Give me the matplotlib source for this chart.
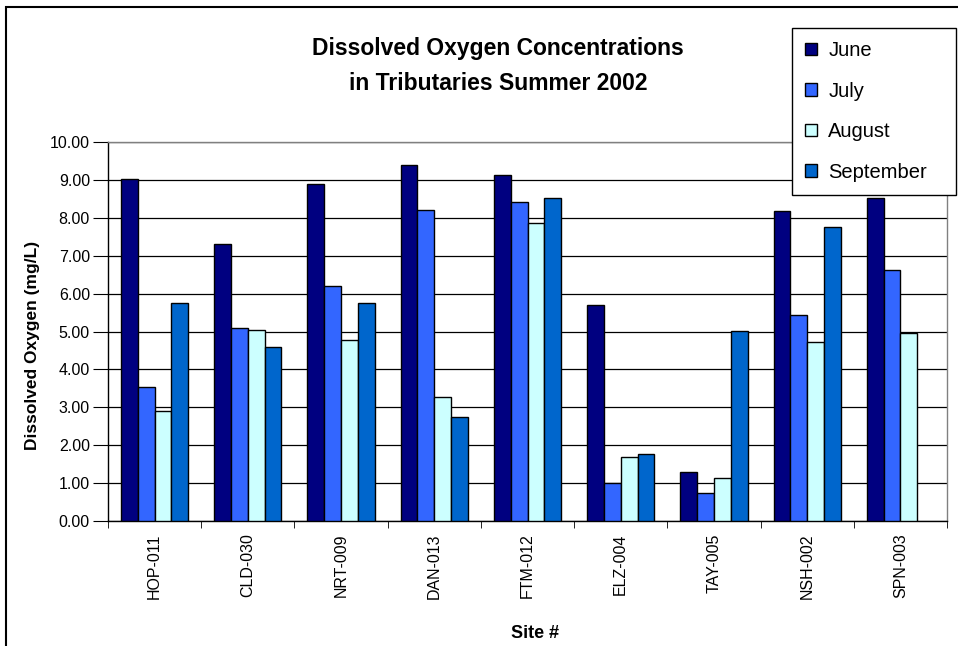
import matplotlib.pyplot as plt
import matplotlib.patches as patches
import numpy as np

plt.rcParams['font.family'] = ['Liberation Sans', 'DejaVu Sans']

# Data
sites = ['HOP-011', 'CLD-030', 'NRT-009', 'DAN-013', 'FTM-012',
         'ELZ-004', 'TAY-005', 'NSH-002', 'SPN-003']
june = [9.02, 7.30, 8.90, 9.38, 9.12, 5.70, 1.29, 8.19, 8.51]
july = [3.54, 5.08, 6.21, 8.20, 8.42, 1.01, 0.73, 5.44, 6.62]
august = [2.90, 5.04, 4.77, 3.28, 7.87, 1.68, 1.14, 4.72, 4.95]
september = [5.75, 4.60, 5.75, 2.75, 8.51, 1.78, 5.01, 7.77, np.nan]

months = ['June', 'July', 'August', 'September']
colors = ['#000080', '#3366FF', '#CCFFFF', '#0066CC']

W, H = 958, 646
fig = plt.figure(figsize=(W / 100, H / 100), dpi=100)
ax = fig.add_axes([108 / W, 125 / H, 839 / W, 379 / H])

x = np.arange(len(sites))
w = 0.18
for i, (vals, name, c) in enumerate(zip([june, july, august, september], months, colors)):
    ax.bar(x + (i - 1.5) * w, vals, width=w, color=c, edgecolor='black',
           linewidth=1.0, label=name, zorder=3)

ax.set_xlim(-0.5, len(sites) - 0.5)
ax.set_ylim(0, 10)
ax.set_yticks(np.arange(0, 11, 1))
ax.set_yticklabels(['%.2f' % v for v in np.arange(0, 11, 1)], fontsize=11.5)
ax.set_xticks(x)
ax.set_xticklabels(sites, rotation=90, fontsize=11.5)
ax.tick_params(axis='x', length=0, pad=9)
ax.set_xticks(np.arange(-0.5, len(sites)), minor=True)
ax.tick_params(axis='x', which='minor', length=5, direction='out')
ax.tick_params(axis='y', length=11, direction='out', pad=2)

ax.yaxis.grid(True, color='black', linewidth=0.9, zorder=0)
ax.set_axisbelow(True)
for s in ['top', 'right']:
    ax.spines[s].set_color('#808080')
    ax.spines[s].set_linewidth(1.0)
for s in ['left', 'bottom']:
    ax.spines[s].set_color('black')
    ax.spines[s].set_linewidth(1.0)

# Axis titles and chart title
fig.text(33 / W, 1 - 345 / H, 'Dissolved Oxygen (mg/L)', rotation=90,
         ha='center', va='center', fontsize=12.5, fontweight='bold')
fig.text(535 / W, 1 - 634 / H, 'Site #', ha='center', va='center',
         fontsize=13, fontweight='bold')
fig.text(498 / W, 1 - 48 / H, 'Dissolved Oxygen Concentrations',
         ha='center', va='center', fontsize=16.5, fontweight='bold')
fig.text(498 / W, 1 - 83 / H, 'in Tributaries Summer 2002',
         ha='center', va='center', fontsize=16.5, fontweight='bold')

leg = ax.legend(loc='upper left', bbox_to_anchor=(792 / W, 1 - 195 / H, 164 / W, 167 / H),
                bbox_transform=fig.transFigure, mode='expand', fontsize=14.5,
                frameon=True, fancybox=False, edgecolor='black', framealpha=1,
                handlelength=0.6, handleheight=0.6, handletextpad=0.55,
                labelspacing=1.07, borderpad=0.65, borderaxespad=0)
leg.get_frame().set_linewidth(1.0)

# Outer chart border (left and top edges fall inside the image)
fig.patches.append(patches.Rectangle((6 / W, -0.05), 1.0, 1 - 7 / H + 0.05,
                                     transform=fig.transFigure, fill=False,
                                     edgecolor='black', linewidth=1.5))

fig.savefig('out.png', dpi=100)
